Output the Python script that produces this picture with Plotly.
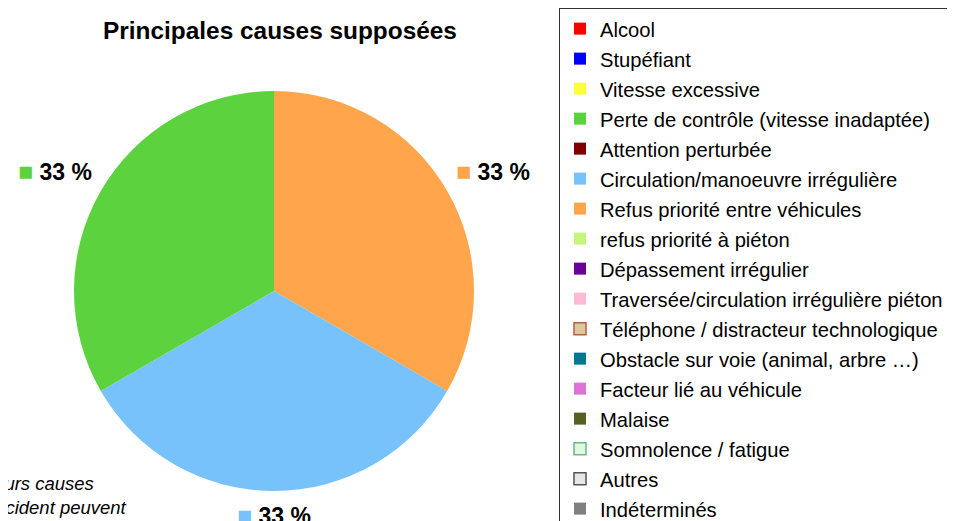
import math
import plotly.graph_objects as go

title = "Principales causes supposées"
labels = [
    "Alcool",
    "Stupéfiant",
    "Vitesse excessive",
    "Perte de contrôle (vitesse inadaptée)",
    "Attention perturbée",
    "Circulation/manoeuvre irrégulière",
    "Refus priorité entre véhicules",
    "refus priorité à piéton",
    "Dépassement irrégulier",
    "Traversée/circulation irrégulière piéton",
    "Téléphone / distracteur technologique",
    "Obstacle sur voie (animal, arbre …)",
    "Facteur lié au véhicule",
    "Malaise",
    "Somnolence / fatigue",
    "Autres",
    "Indéterminés",
]
values = [0, 0, 0, 1, 0, 1, 1, 0, 0, 0, 0, 0, 0, 0, 0, 0, 0]
colors = [
    "#ff0000", "#0000ff", "#ffff38", "#5cd33e", "#7f0000", "#77c2fb",
    "#ffa54b", "#c5f57a", "#6a0099", "#ffbbd5", "#ddc9a0", "#00788f",
    "#dc73d6", "#566020", "#dff7df", "#e6e6e6", "#808080",
]
border_colors = [
    "#ff0000", "#0000ff", "#ffff38", "#5cd33e", "#7f0000", "#77c2fb",
    "#ffa54b", "#c5f57a", "#6a0099", "#ffbbd5", "#b8603c", "#00788f",
    "#dc73d6", "#566020", "#6cb982", "#555555", "#808080",
]
note = "Plusieurs causes<br>par accident peuvent<br>se cumuler"

FONT = "Liberation Sans, Arial, sans-serif"
W, H = 955, 521
# pie placement (pixels in figure space)
CX, CY, R = 266, 283, 200
LABEL_GAP = 8

# slices drawn clockwise from 12 o'clock, last cause first
order = [i for i in reversed(range(len(labels))) if values[i] > 0]
pie_labels = [labels[i] for i in order]
pie_values = [values[i] for i in order]
pie_colors = [colors[i] for i in order]
total = sum(pie_values)

fig = go.Figure()
fig.add_trace(
    go.Pie(
        labels=pie_labels,
        values=pie_values,
        textinfo="none",
        sort=False,
        direction="clockwise",
        marker=dict(colors=pie_colors, line=dict(width=0)),
        hoverinfo="label+percent",
        showlegend=False,
        domain=dict(x=[(CX - R) / W, (CX + R) / W],
                    y=[1 - (CY + R) / H, 1 - (CY - R) / H]),
    )
)

# percentage labels placed outside each slice, at its mid-angle
annotations = []
cum = 0
for lab, v, c in zip(pie_labels, pie_values, pie_colors):
    theta = math.radians((cum + v / 2) / total * 360)
    cum += v
    s, co = math.sin(theta), math.cos(theta)
    px = CX + (R + LABEL_GAP) * s
    py = CY - (R + LABEL_GAP) * co
    xa = "left" if s > 0.1 else ("right" if s < -0.1 else "center")
    ya = "bottom" if co > 0.1 else ("top" if co < -0.1 else "middle")
    pct = round(v / total * 100)
    annotations.append(dict(
        text=f"<span style='color:{c};font-weight:normal;font-size:25px'>■</span> {pct} %",
        xref="paper", yref="paper", x=px / W, y=1 - py / H,
        xanchor=xa, yanchor=ya, showarrow=False,
        font=dict(family=FONT, size=23, color="black", weight="bold"),
    ))

annotations.append(dict(
    text=note,
    xref="paper", yref="paper",
    x=-57 / W, y=1 - 463 / H,
    xanchor="left", yanchor="top", align="left", showarrow=False,
    font=dict(family=FONT, size=18.5, color="black", style="italic"),
))

# legend entries (one per cause, in the reference order)
for i, (lab, c, bc) in enumerate(zip(labels, colors, border_colors)):
    fig.add_trace(
        go.Scatter(
            x=[None],
            y=[None],
            mode="markers",
            name=lab,
            legendgroup=f"g{i}",
            marker=dict(symbol="square", size=12, color=c,
                        line=dict(color=bc, width=1.5 if bc != c else 0)),
            hoverinfo="skip",
        )
    )

fig.update_layout(
    width=W,
    height=H,
    margin=dict(l=0, r=0, t=0, b=0, autoexpand=False),
    paper_bgcolor="white",
    plot_bgcolor="white",
    font=dict(family=FONT, color="black"),
    xaxis=dict(visible=False),
    yaxis=dict(visible=False),
    title=dict(
        text=title,
        x=272 / W,
        xanchor="center",
        y=1 - 22 / H,
        yanchor="middle",
        font=dict(family=FONT, size=24.4, color="black", weight="bold"),
    ),
    legend=dict(
        x=551 / W,
        y=1,
        xanchor="left",
        yanchor="top",
        bordercolor="#333333",
        borderwidth=1,
        bgcolor="white",
        font=dict(family=FONT, size=20.2, color="black"),
        traceorder="grouped",
        tracegroupgap=0.74,
        maxheight=1000,
    ),
    annotations=annotations,
)

fig.write_html("out.html")
